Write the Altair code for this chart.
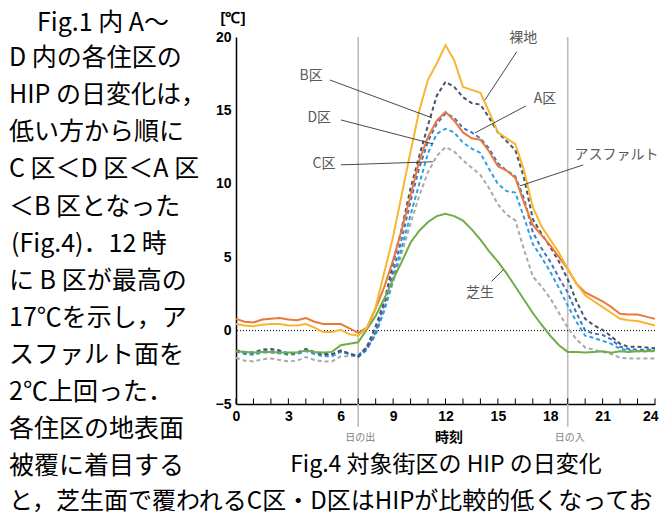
import altair as alt
import pandas as pd

# ---------------- data ----------------
hours = [i * 0.5 for i in range(49)]

bare = [0.45, 0.35, 0.3, 0.4, 0.45, 0.45, 0.35, 0.35, 0.45, 0.2, -0.1, -0.1, 0.05, -0.25, -0.35,
        0.2, 1.6, 4.0, 6.4, 9.3, 12.2, 15.0, 17.1, 18.2, 19.45,
        18.4, 16.6, 16.4, 16.2, 14.9, 13.5, 13.1, 12.7, 10.9, 8.4,
        7.1, 6.2, 5.3, 4.2, 3.2, 2.4, 2.0, 1.6, 1.2, 0.8,
        0.7, 0.65, 0.5, 0.35]
asphalt = [0.8, 0.6, 0.55, 0.75, 0.8, 0.85, 0.75, 0.7, 0.85, 0.6, 0.45, 0.45, 0.45, 0.15, -0.15,
           0.2, 1.5, 3.0, 4.8, 6.9, 9.2, 11.6, 13.2, 14.3, 14.9,
           14.3, 13.5, 13.1, 13.0, 12.2, 11.2, 10.9, 10.4, 8.7, 7.2,
           6.5, 5.8, 5.0, 4.2, 3.2, 2.6, 2.3, 2.0, 1.6, 1.15,
           1.1, 1.1, 0.95, 0.8]
b_ku = [-1.35, -1.45, -1.5, -1.3, -1.25, -1.35, -1.55, -1.5, -1.25, -1.45, -1.6, -1.6, -1.35, -1.55, -1.75,
        -1.1, 0.3, 2.0, 4.6, 7.0, 9.7, 11.9, 14.0, 16.0, 16.95,
        16.6, 15.9, 15.5, 15.4, 14.5, 13.5, 12.9, 12.3, 10.4, 7.6,
        6.6, 5.7, 4.7, 3.5, 2.0, 0.8, 0.35, 0.05, -0.4, -0.9,
        -1.1, -1.1, -1.15, -1.2]
a_ku = [-1.4, -1.55, -1.55, -1.4, -1.4, -1.45, -1.6, -1.55, -1.3, -1.5, -1.65, -1.65, -1.4, -1.6, -1.8,
        -1.3, -0.1, 1.8, 4.0, 6.3, 8.8, 11.1, 12.9, 14.1, 14.8,
        14.5, 13.8, 13.5, 13.1, 12.4, 11.4, 10.9, 10.5, 9.0, 6.7,
        5.6, 4.7, 3.6, 2.6, 1.2, 0.0, -0.2, -0.3, -0.6, -1.1,
        -1.25, -1.3, -1.3, -1.3]
d_ku = [-1.4, -1.6, -1.65, -1.5, -1.5, -1.55, -1.65, -1.6, -1.4, -1.6, -1.75, -1.75, -1.45, -1.6, -1.7,
        -1.2, -0.3, 1.4, 3.5, 5.7, 7.9, 10.0, 12.1, 13.4, 13.75,
        13.5, 12.8, 12.4, 12.1, 11.0, 10.0, 9.5, 9.4, 7.7, 5.9,
        5.0, 4.0, 2.9, 1.7, 0.6, -0.35, -0.5, -0.7, -0.9, -1.25,
        -1.35, -1.4, -1.4, -1.4]
c_ku = [-1.85, -2.05, -2.1, -1.95, -1.9, -2.0, -2.1, -2.05, -1.8, -2.0, -2.1, -2.1, -1.75, -1.75, -1.7,
        -1.1, -0.1, 1.4, 3.3, 5.3, 7.3, 9.2, 10.8, 11.9, 12.5,
        12.2, 11.6, 11.1, 10.6, 9.7, 8.6, 7.9, 7.5, 5.5, 3.7,
        3.0, 2.2, 1.2, 0.2, -0.6, -1.15, -1.3, -1.45, -1.6, -1.85,
        -1.9, -1.9, -1.9, -1.9]
lawn = [-1.4, -1.45, -1.5, -1.45, -1.45, -1.5, -1.5, -1.5, -1.35, -1.45, -1.5, -1.45, -1.0, -0.9, -0.8,
        0.1, 1.0, 2.2, 3.5, 4.7, 6.0, 6.8, 7.4, 7.8, 7.95,
        7.8, 7.5, 6.9, 6.2, 5.4, 4.7, 3.9, 3.0, 2.1, 1.2,
        0.4, -0.35, -1.0, -1.45, -1.45, -1.5, -1.45, -1.4, -1.5, -1.4,
        -1.45, -1.4, -1.4, -1.35]

series_names = ["C区", "D区", "A区", "B区", "芝生", "アスファルト", "裸地"]
series_colors = ["#A9A9A9", "#2E9FE0", "#4472C4", "#44546A", "#70AD47", "#EA7A3A", "#F5B731"]
series_values = [c_ku, d_ku, a_ku, b_ku, lawn, asphalt, bare]
dashed_series = ["C区", "D区", "A区", "B区"]

x_ticks = list(range(0, 25, 3))
y_ticks = [-5, 0, 5, 10, 15, 20]
minor_hours = list(range(0, 25))
sun_hours = [7, 19]
sun_labels = ["日の出", "日の入"]

label_text = ["B区", "D区", "C区", "裸地", "A区", "アスファルト", "芝生"]
label_hour = [4.30, 4.77, 5.04, 16.45, 17.7, 21.8, 13.97]
label_value = [17.35, 14.47, 11.34, 19.91, 15.76, 11.97, 2.56]
leader_h1 = [5.38, 6.01, 6.01, 16.08, 16.61, 19.89, 15.31]
leader_v1 = [17.07, 14.35, 11.29, 19.0, 15.31, 11.29, 4.15]
leader_h2 = [11.23, 11.28, 11.28, 14.26, 13.69, 16.27, 14.64]
leader_v2 = [14.49, 12.72, 11.5, 15.71, 13.47, 9.86, 3.35]

body_lines = [
    "Fig.1 内 A～",
    "D 内の各住区の",
    "HIP の日変化は，",
    "低い方から順に",
    "C 区＜D 区＜A 区",
    "＜B 区となった",
    "(Fig.4)．12 時",
    "に B 区が最高の",
    "17℃を示し，ア",
    "スファルト面を",
    "2℃上回った．",
    "各住区の地表面",
    "被覆に着目する",
]
last_line = "と，芝生面で覆われるC区・D区はHIPが比較的低くなってお"
caption = "Fig.4 対象街区の HIP の日変化"

# ---------------- tables ----------------
rows = []
for name, vals in zip(series_names, series_values):
    for h, v in zip(hours, vals):
        rows.append({"hour": h, "value": v, "series": name})
df = pd.DataFrame(rows)

labels_df = pd.DataFrame({"hour": label_hour, "value": label_value, "text": label_text})
leaders_df = pd.DataFrame({"h1": leader_h1, "v1": leader_v1, "h2": leader_h2, "v2": leader_v2})
ticks_df = pd.DataFrame({"hour": minor_hours, "lo": [-5] * len(minor_hours), "hi": [-4.62] * len(minor_hours)})
sun_df = pd.DataFrame({"hour": sun_hours, "top": [20, 20], "bot": [-6.55, -6.55], "text": sun_labels})
zero_df = pd.DataFrame({"zero": [0]})
dummy = pd.DataFrame({"a": [0]})

FONT_NUM = "Liberation Sans"
FONT_JP = "Noto Sans CJK JP"

x_scale = alt.Scale(domain=[0, 24], nice=False)
y_scale = alt.Scale(domain=[-5, 20], nice=False, zero=False)
x_axis = alt.Axis(values=x_ticks, title=None, ticks=False, grid=False, labelFont=FONT_NUM,
                  labelFontWeight="bold", labelFontSize=14, labelColor="#000000", labelPadding=5,
                  domainColor="#000000", domainWidth=1.5, labelFlush=False,
                  labelAlign={"condition": {"test": "datum.value == 24", "value": "right"}, "value": "center"},
                  labelOffset={"condition": {"test": "datum.value == 24", "value": 3}, "value": 0})
y_axis = alt.Axis(values=y_ticks, title=None, ticks=False, grid=False, labelFont=FONT_NUM,
                  labelFontWeight="bold", labelFontSize=14, labelColor="#000000", labelPadding=5,
                  domainColor="#000000", domainWidth=1.5, labelFlush=False)


def X(field):
    return alt.X(field, type="quantitative", scale=x_scale, axis=x_axis)


def Y(field):
    return alt.Y(field, type="quantitative", scale=y_scale, axis=y_axis)


color = alt.Color("series:N", scale=alt.Scale(domain=series_names, range=series_colors), legend=None)

sun_rules = alt.Chart(sun_df).mark_rule(color="#BDBDBD", strokeWidth=1.6).encode(
    x=X("hour"), y=Y("top"), y2="bot")
sun_text = alt.Chart(sun_df).mark_text(font=FONT_JP, fontSize=10, color="#7F7F7F", dx=2).encode(
    x=X("hour"), y=alt.value(401), text="text:N")
zero_line = alt.Chart(zero_df).mark_rule(color="#000000", strokeWidth=1, strokeDash=[1, 2]).encode(
    y=Y("zero"))
minor_ticks = alt.Chart(ticks_df).mark_rule(color="#000000", strokeWidth=1).encode(
    x=X("hour"), y=Y("lo"), y2="hi")

dashed_lines = alt.Chart(df[df["series"].isin(dashed_series)]).mark_line(
    strokeWidth=2, strokeDash=[4, 3]).encode(x=X("hour"), y=Y("value"), color=color)
solid_lines = alt.Chart(df[~df["series"].isin(dashed_series)]).mark_line(
    strokeWidth=2).encode(x=X("hour"), y=Y("value"), color=color)

leaders = alt.Chart(leaders_df).mark_rule(color="#333333", strokeWidth=0.9).encode(
    x=X("h1"), y=Y("v1"), x2="h2", y2="v2")
labels = alt.Chart(labels_df).mark_text(font=FONT_JP, fontSize=14, color="#595959").encode(
    x=X("hour"), y=Y("value"), text="text:N")


def ptext(t, px, py, **kw):
    return alt.Chart(dummy).mark_text(**kw).encode(x=alt.value(px), y=alt.value(py), text=alt.value(t))


extra = [
    ptext("[℃]", -3, -19, font=FONT_NUM, fontSize=15, fontWeight="bold", color="#000000"),
    ptext("時刻", 213, 401, font=FONT_JP, fontSize=14, fontWeight="bold", color="#000000"),
    ptext(caption, 210, 428, font=FONT_JP, fontSize=23, color="#000000"),
]
for i, line in enumerate(body_lines):
    px = -199 if i == 0 else (-225 if i == 6 else -227)
    py = -14 if i == 0 else -16 + 37.1 * i
    extra.append(ptext(line, px, py, font=FONT_JP, fontSize=25, align="left", color="#000000"))
extra.append(ptext(last_line, -227, 465, font=FONT_JP, fontSize=24, align="left", color="#000000"))

chart = alt.layer(
    sun_rules, zero_line, minor_ticks, dashed_lines, solid_lines, leaders, labels, sun_text, *extra
).properties(
    width=419, height=367,
    autosize=alt.AutoSizeParams(type="none"),
    padding={"left": 228, "top": 29, "right": 4, "bottom": 111},
    background="#FFFFFF",
).configure_view(stroke=None)

chart.save("out.html", embed_options={"renderer": "svg", "actions": False})
